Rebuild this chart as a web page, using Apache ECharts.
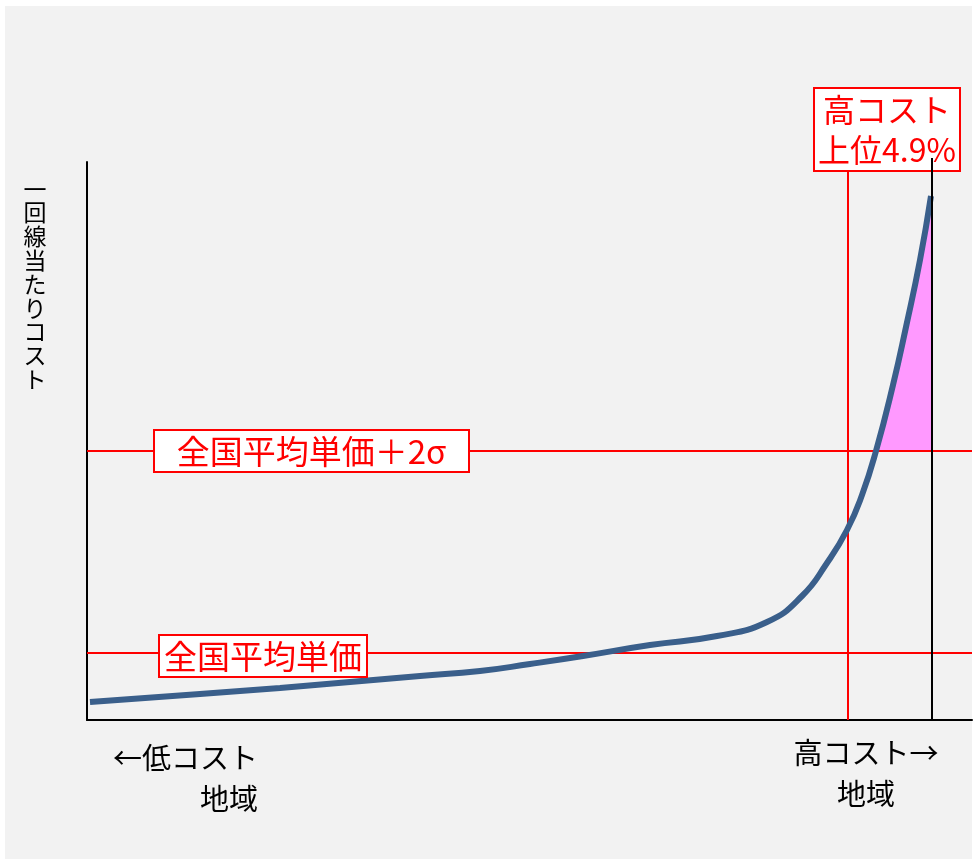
<!DOCTYPE html>
<html>
<head>
<meta charset="utf-8">
<style>
  html, body { margin: 0; padding: 0; background: #fff; }
  #chart { width: 977px; height: 864px; }
</style>
<script src="https://cdn.jsdelivr.net/npm/echarts@6/dist/echarts.min.js"></script>
</head>
<body>
<div id="chart"></div>
<script>
// 一回線当たりコスト curve (x = 地域の並び, y = コスト)
const costCurve = [
  [3, 18], [113, 26], [193, 32], [263, 38], [333, 44], [393, 49], [443, 56],
  [496, 64], [563, 75], [630, 84], [680, 98], [715, 124], [740, 157],
  [760, 190], [775, 225], [789, 269], [806, 335], [819, 393], [833, 460],
  [844, 524]
]
const avgPrice = 67        // 全国平均単価
const avgPlus2s = 269      // 全国平均単価＋2σ
const top49X = 761         // 高コスト上位4.9% boundary
const lastX = 845          // 最高コスト地域
const xMax = 885
const yMax = 558
const yTitle = '一回線当たりコスト'

const font = '"Noto Sans CJK JP", "Noto Sans", sans-serif'
const red = '#ff0000'

// pink area: curve above +2σ, closed against the last region
const pinkArea = costCurve.filter(p => p[1] >= avgPlus2s)
  .concat([[lastX, costCurve[costCurve.length - 1][1]], [lastX, avgPlus2s]])

const myChart = echarts.init(document.getElementById('chart'))

const lineSeries = (data, color, z, width) => ({
  type: 'line',
  data: data,
  symbol: 'none',
  silent: true,
  clip: false,
  z: z,
  lineStyle: { color: color, width: width || 2 }
})

const boxText = (x, y, w, h, text, size, lh) => ({
  type: 'group',
  left: x,
  top: y,
  z: 100,
  children: [
    {
      type: 'rect',
      shape: { x: 0, y: 0, width: w, height: h },
      style: { fill: '#fff', stroke: red, lineWidth: 2 },
      z: 100
    },
    {
      type: 'text',
      x: w / 2,
      y: h / 2,
      z: 101,
      style: {
        text: text,
        fill: red,
        font: size + 'px ' + font,
        align: 'center',
        verticalAlign: 'middle',
        lineHeight: lh || size
      }
    }
  ]
})

const plainText = (x, y, text, align, size, lh) => ({
  type: 'text',
  x: x,
  y: y,
  z: 100,
  style: {
    text: text,
    fill: '#000',
    font: (size || 29) + 'px ' + font,
    align: align,
    verticalAlign: 'middle',
    lineHeight: lh || 41
  }
})

const option = {
  backgroundColor: '#fff',
  animation: false,
  grid: { left: 87, right: 5, top: 162, bottom: 144 },
  xAxis: {
    type: 'value',
    min: 0,
    max: xMax,
    axisLine: { show: true, lineStyle: { color: '#000', width: 2 } },
    axisTick: { show: false },
    axisLabel: { show: false },
    splitLine: { show: false }
  },
  yAxis: {
    type: 'value',
    min: 0,
    max: yMax,
    axisLine: { show: true, lineStyle: { color: '#000', width: 2 } },
    axisTick: { show: false },
    axisLabel: { show: false },
    splitLine: { show: false }
  },
  graphic: [
    {
      type: 'rect',
      shape: { x: 5, y: 6, width: 967, height: 853 },
      style: { fill: '#f2f2f2' },
      z: -10
    },
    boxText(813, 87, 146, 83, '高コスト\n上位4.9%', 32, 40),
    boxText(153, 429, 315, 42, '全国平均単価＋2σ', 33),
    boxText(158, 634, 208, 42, '全国平均単価', 33),
    plainText(258, 778, '←低コスト\n地域', 'right'),
    plainText(866, 773, '高コスト→\n地域', 'center'),
    plainText(35, 284, yTitle.split('').join('\n'), 'center', 23, 23.8)
  ],
  series: [
    {
      type: 'custom',
      silent: true,
      z: 1,
      data: [[0, 0]],
      renderItem: (params, api) => ({
        type: 'polygon',
        shape: { points: pinkArea.map(p => api.coord(p)) },
        style: { fill: '#ff99ff' }
      })
    },
    lineSeries([[0, avgPrice], [xMax, avgPrice]], red, 2),
    lineSeries([[0, avgPlus2s], [xMax, avgPlus2s]], red, 2),
    lineSeries([[top49X, 0], [top49X, 550]], red, 2),
    {
      type: 'line',
      data: costCurve,
      symbol: 'none',
      silent: true,
      smooth: 0.5,
      z: 3,
      lineStyle: { color: '#3a5f8b', width: 6 }
    },
    lineSeries([[lastX, 0], [lastX, 562]], '#000', 200)
  ]
}

myChart.setOption(option)
</script>
</body>
</html>
